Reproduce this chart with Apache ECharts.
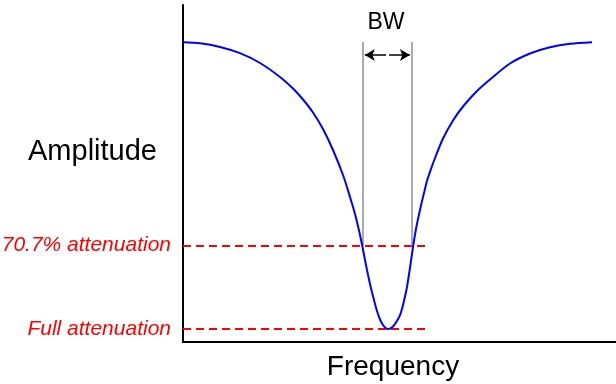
<!DOCTYPE html>
<html>
<head>
<meta charset="utf-8">
<script src="https://cdn.jsdelivr.net/npm/echarts@6/dist/echarts.min.js"></script>
<style>
html,body{margin:0;padding:0;background:#fff;}
#chart{width:616px;height:384px;}
</style>
</head>
<body>
<div id="chart"></div>
<script>
// Frequency (arbitrary units 0..100) and amplitude (arbitrary units 0..100)
const freq = [0, 3.93, 8.55, 13.16, 17.78, 22.4, 25.4, 27.71, 30.02, 32.33, 34.64, 36.95, 38.57, 39.72, 40.65, 41.34, 42.26, 43.19, 44.11, 44.8, 45.5, 46.19, 46.88, 47.34, 47.8, 48.5, 49.19, 50.12, 50.81, 51.5, 51.73, 52.42, 53.12, 53.81, 54.73, 55.66, 56.35, 57.27, 58.2, 60.05, 62.36, 64.67, 67.9, 70.9, 75.52, 80.14, 84.76, 89.38, 94.46];
const amp  = [88.93, 88.64, 87.54, 85.70, 82.79, 78.64, 75.22, 71.96, 68.10, 63.20, 56.97, 49.55, 43.03, 37.98, 33.09, 28.93, 22.85, 17.21, 12.46, 9.20, 6.68, 5.04, 4.07, 3.86, 3.95, 4.60, 5.79, 8.01, 10.98, 14.84, 16.32, 21.96, 28.19, 33.53, 39.17, 44.21, 47.77, 51.34, 54.60, 60.39, 65.73, 69.88, 74.48, 77.89, 82.64, 85.61, 87.45, 88.49, 88.96];

// Reference levels
const levelNames = ['70.7% attenuation', 'Full attenuation'];
const levelValues = [28.6, 3.9];
const levelEnd = 55.9;

// Bandwidth edges (frequency) and the top of the marker lines
const bwEdges = [41.6, 52.9];
const bwTop = 89.0;
const bwArrowY = 85.2;
const bwArrowFrom = [46.9, 47.6];
const bwArrowTo = [42.0, 52.4];

const FONT = '"Liberation Sans", Arial, sans-serif';

const chart = echarts.init(document.getElementById('chart'), null, {renderer: 'canvas'});

const curveData = freq.map((f, i) => [f, amp[i]]);

chart.setOption({
  animation: false,
  grid: {left: 183, top: 5, right: 0, bottom: 42, containLabel: false},
  xAxis: {
    type: 'value', min: 0, max: 100,
    axisLine: {show: true, onZero: false, lineStyle: {color: '#000', width: 2}},
    axisTick: {show: false}, axisLabel: {show: false}, splitLine: {show: false}
  },
  yAxis: {
    type: 'value', min: 0, max: 100,
    axisLine: {show: true, onZero: false, lineStyle: {color: '#000', width: 2}},
    axisTick: {show: false}, axisLabel: {show: false}, splitLine: {show: false}
  },
  series: [
    {
      type: 'line',
      data: curveData,
      smooth: 0.3,
      showSymbol: false,
      lineStyle: {color: '#0000ff', width: 2},
      z: 5,
      markLine: {
        silent: true,
        symbol: ['none', 'none'],
        data: levelValues.map((v, i) => [
          {name: levelNames[i], coord: [0, v]},
          {coord: [levelEnd, v]}
        ]),
        lineStyle: {color: '#ff0000', width: 2, type: [8, 5]},
        label: {
          show: true, position: 'start', formatter: '{b}', distance: 12,
          color: '#ff0000', fontStyle: 'italic', fontSize: 21, fontFamily: FONT
        }
      }
    },
    {
      type: 'line',
      data: [],
      z: 3,
      markLine: {
        silent: true,
        symbol: ['none', 'none'],
        label: {show: false},
        lineStyle: {color: '#aaaaaa', width: 2, type: 'solid'},
        data: bwEdges.map(x => [
          {coord: [x, levelValues[0]]},
          {coord: [x, bwTop]}
        ])
      }
    },
    {
      type: 'line',
      data: [],
      z: 4,
      markLine: {
        silent: true,
        symbol: ['none', 'arrow'],
        symbolSize: [9, 10],
        label: {show: false},
        lineStyle: {color: '#000', width: 1.5, type: 'solid'},
        data: bwArrowFrom.map((x, i) => [
          {coord: [x, bwArrowY]},
          {coord: [bwArrowTo[i], bwArrowY]}
        ])
      }
    }
  ],
  graphic: [
    {type: 'text', x: 28, y: 152, style: {text: 'Amplitude', font: '29px ' + FONT, fill: '#000', align: 'left', verticalAlign: 'middle'}},
    {type: 'text', x: 393, y: 367, style: {text: 'Frequency', font: '28px ' + FONT, fill: '#000', align: 'center', verticalAlign: 'middle'}},
    {type: 'text', x: 386, y: 23, style: {text: 'BW', font: '23px ' + FONT, fill: '#000', align: 'center', verticalAlign: 'middle'}}
  ]
});
</script>
</body>
</html>
